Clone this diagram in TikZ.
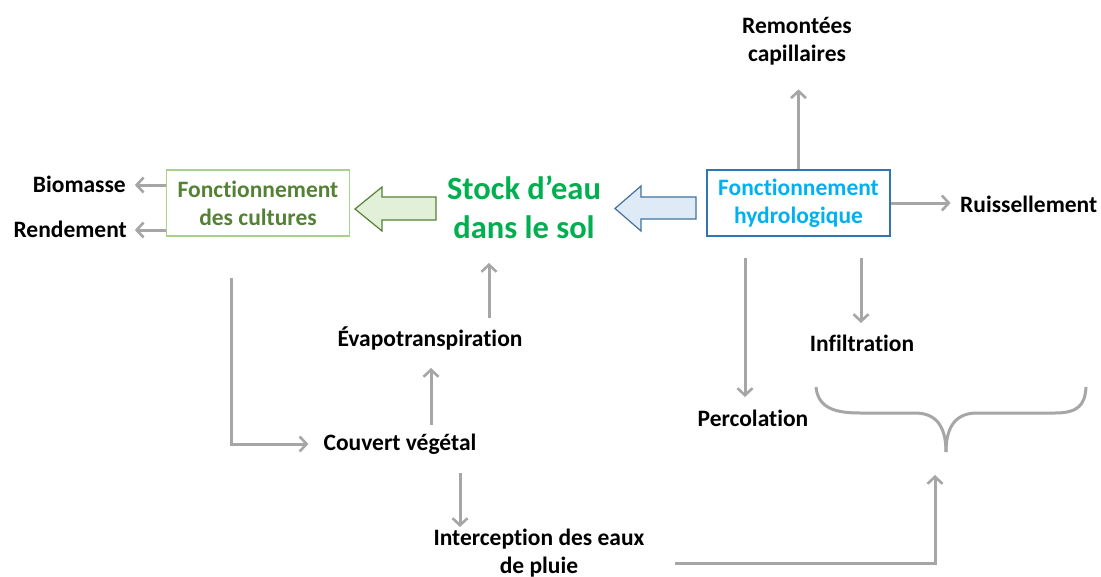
\documentclass[tikz,border=0pt]{standalone}
\usepackage{fontspec}
\setmainfont{Carlito}[Ligatures=NoCommon]
\usetikzlibrary{arrows.meta}
\definecolor{arrgray}{RGB}{166,166,166}
\definecolor{hydroText}{RGB}{0,176,240}
\definecolor{hydroBorder}{RGB}{46,117,182}
\definecolor{cultText}{RGB}{84,130,53}
\definecolor{cultBorder}{RGB}{169,209,142}
\definecolor{stockGreen}{RGB}{0,176,80}
\definecolor{blueFill}{RGB}{222,235,247}
\definecolor{blueBorder}{RGB}{65,113,156}
\definecolor{greenFill}{RGB}{226,239,217}
\definecolor{greenBorder}{RGB}{84,130,53}
\tikzset{
  lbl/.style={font=\bfseries\fontsize{23.5}{28}\selectfont, align=center, inner sep=0pt},
  fbox/.style={font=\bfseries\fontsize{23.5}{28}\selectfont, align=center, inner sep=0pt, line width=1.3pt, minimum width=183pt, minimum height=66pt},
  stocklbl/.style={font=\bfseries\fontsize{32.5}{39}\selectfont, align=center, inner sep=0pt, text=stockGreen},
  arr/.style={draw=arrgray, line width=3pt, -{Straight Barb[length=7pt,width=15pt,line width=2.6pt]}},
  brace/.style={draw=arrgray, line width=3pt},
  blockarrow/.style={line width=1.2pt}
}
\begin{document}
\begin{tikzpicture}[x=1pt,y=-1pt]
\useasboundingbox (0,0) rectangle (1101,576);
% nodes
\node[lbl] (remont) at (797,41) {Remontées\\capillaires};
\node[fbox, draw=hydroBorder, text=hydroText] (hydro) at (798.5,203) {Fonctionnement\\hydrologique};
\node[lbl, anchor=west] (ruis) at (960,204) {Ruissellement};
\node[stocklbl] (stock) at (524,207) {Stock d’eau\\dans le sol};
\node[fbox, draw=cultBorder, text=cultText] (cult) at (258,203) {Fonctionnement\\des cultures};
\node[lbl, anchor=east] (bio) at (126,184) {Biomasse};
\node[lbl, anchor=east] (rend) at (127,229) {Rendement};
\node[lbl] (evapo) at (430,338) {Évapotranspiration};
\node[lbl] (couvert) at (400,444) {Couvert végétal};
\node[lbl] (interc) at (539,553) {Interception des eaux\\de pluie};
\node[lbl] (perco) at (753,418) {Percolation};
\node[lbl] (infil) at (862,343) {Infiltration};
% block arrows
\draw[blockarrow, fill=blueFill, draw=blueBorder] (696,197) -- (641,197) -- (641,186) -- (615,208.5) -- (641,231) -- (641,219) -- (696,219) -- cycle;
\draw[blockarrow, fill=greenFill, draw=greenBorder] (436,197) -- (382,197) -- (382,187) -- (355,209) -- (382,231) -- (382,220) -- (436,220) -- cycle;
% gray connectors
\draw[arr] (hydro.north) -- ++(0,-80);
\draw[arr] (hydro.east) -- ++(60,0);
\draw[arr] (cult.west |- 0,185) -- ++(-31,0);
\draw[arr] (cult.west |- 0,230) -- ++(-31,0);
\draw[arr] (231,278) |- ([xshift=-15pt]couvert.west);
\draw[arr] (431,425) -- (431,368);
\draw[arr] (489,318) -- (489,263);
\draw[arr] (460,473) -- (460,527);
\draw[arr] (745,258) -- (745,397);
\draw[arr] (861,258) -- (861,323);
\draw[arr] (675,563) -| (935,475);
% brace
\draw[brace] (816,387) .. controls (818,408) and (835,413) .. (860,413) -- (915,413) .. controls (935,413) and (946,425) .. (946,452);
\draw[brace] (946,452) .. controls (946,425) and (957,413) .. (977,413) -- (1055,413) .. controls (1078,413) and (1085,405) .. (1086,387);
\end{tikzpicture}
\end{document}
